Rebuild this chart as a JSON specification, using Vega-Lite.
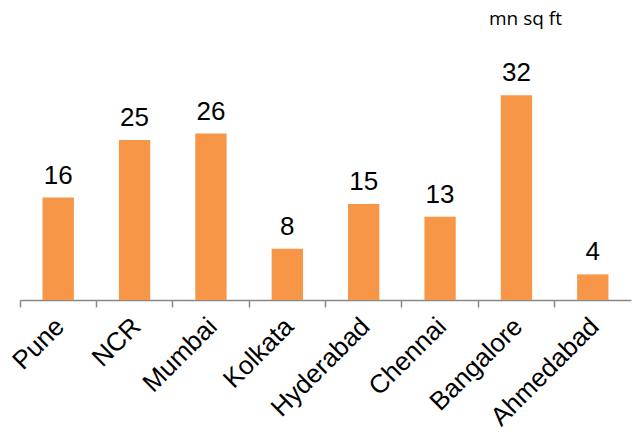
{
  "$schema": "https://vega.github.io/schema/vega-lite/v6.json",
  "width": 611,
  "height": 256,
  "autosize": {"type": "none"},
  "padding": {"left": 20, "top": 44, "right": 3, "bottom": 141},
  "background": "white",
  "title": {"text": "mn sq ft", "anchor": "end", "dx": -69, "offset": 15, "font": "Open Sans", "fontSize": 19, "fontWeight": "normal", "color": "black"},
  "data": {"values": [
    {"city": "Pune", "value": 16},
    {"city": "NCR", "value": 25},
    {"city": "Mumbai", "value": 26},
    {"city": "Kolkata", "value": 8},
    {"city": "Hyderabad", "value": 15},
    {"city": "Chennai", "value": 13},
    {"city": "Bangalore", "value": 32},
    {"city": "Ahmedabad", "value": 4}
  ]},
  "config": {"view": {"stroke": null}},
  "encoding": {
    "x": {"field": "city", "type": "nominal", "sort": null,
      "scale": {"paddingInner": 0.59, "paddingOuter": 0.295},
      "axis": {"title": null, "bandPosition": -0.7195, "labelAngle": -45, "labelAlign": "right", "labelBaseline": "middle",
        "labelFont": "Liberation Sans", "labelFontSize": 26, "labelColor": "black", "labelPadding": 15, "labelOffset": 2,
        "ticks": true, "tickColor": "#888888", "tickSize": 7, "tickWidth": 1.5, "domainColor": "#888888", "domainWidth": 1.5}},
    "y": {"field": "value", "type": "quantitative", "scale": {"domain": [0, 40]}, "axis": null}
  },
  "layer": [
    {"mark": {"type": "bar", "color": "#F79646"}},
    {"mark": {"type": "text", "baseline": "bottom", "dy": -9, "font": "Liberation Sans", "fontSize": 26, "color": "black"},
     "encoding": {"text": {"field": "value", "type": "quantitative"}}}
  ]
}
